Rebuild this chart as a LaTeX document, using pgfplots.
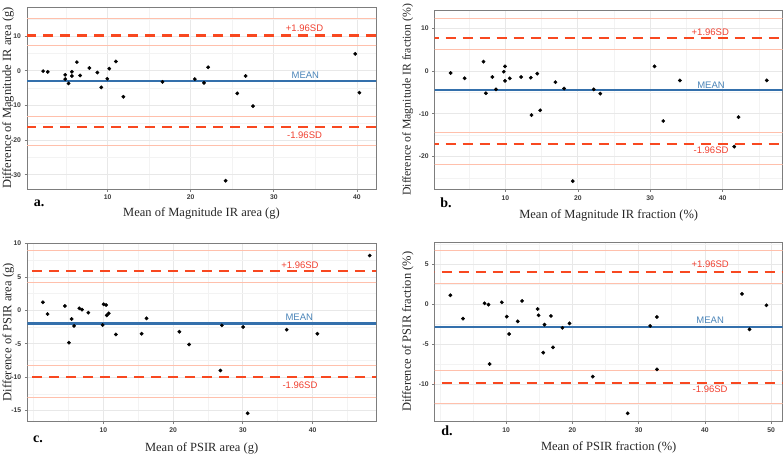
\documentclass[border=0pt]{standalone}
\usepackage{pgfplots}
\pgfplotsset{compat=1.18}
\usepackage{fontspec}
\setmainfont{Liberation Serif}
\setsansfont{Liberation Sans}
\definecolor{sdred}{RGB}{248,72,32}
\definecolor{cilight}{RGB}{255,192,172}
\definecolor{meanblue}{RGB}{52,112,172}
\definecolor{sdtext}{RGB}{240,64,48}
\definecolor{meantext}{RGB}{74,132,184}
\definecolor{gridc}{RGB}{232,232,232}
\definecolor{gridm}{RGB}{243,243,243}
\definecolor{framec}{RGB}{125,125,125}
\definecolor{tickc}{RGB}{60,60,60}
\tikzset{
  sdlab/.style={font=\sffamily\fontsize{9.5}{10}\selectfont, text=sdtext},
  mnlab/.style={font=\sffamily\fontsize{9.5}{10}\selectfont, text=meantext},
  plab/.style={font=\bfseries\fontsize{14}{15}\selectfont},
}
\pgfplotsset{
  ba/.style={
    scale only axis, anchor=north west,
    tick pos=left, tick align=outside, major tick length=2.5pt,
    minor tick length=0pt,
    grid=both,
    major grid style={color=gridc, line width=0.7pt},
    minor grid style={color=gridm, line width=0.5pt},
    axis line style={color=framec, line width=0.9pt},
    major tick style={color=framec, line width=0.6pt},
    ticklabel style={font=\sffamily\bfseries\fontsize{6.8}{7}\selectfont, text=tickc},
    /pgf/number format/assume math mode=true,
    label style={font=\fontsize{12.5}{14}\selectfont, text=black!85, inner sep=1pt},
    clip=true,
  },
  xl/.style={xlabel style={at={([yshift=-#1]axis description cs:0.5,0)}, anchor=center}},
  yl/.style={ylabel style={at={([xshift=-#1]axis description cs:0,0.5)}, anchor=center, rotate=0}},
  pts/.style={only marks, mark=*, mark size=1.7pt, color=black},
  ci/.style={color=cilight, line width=0.9pt},
  sd/.style={color=sdred, line width=2.2pt, dash pattern=on 10pt off 7pt},
  mn/.style={color=meanblue, line width=2.6pt},
}
\pgfplotstableread{
x y
2.24 -0.1
2.8 -0.3
4.9 -1.15
4.9 -2.4
5.3 -3.65
5.7 -0.3
5.7 -1.5
6.3 2.5
6.7 -1.35
7.8 0.8
8.76 -0.5
9.24 -4.8
9.96 -2.3
10.2 0.6
11.0 2.7
11.9 -7.5
16.6 -3.2
20.5 -2.4
21.6 -3.5
22.1 1.0
24.2 -31.7
25.6 -6.5
26.6 -1.5
27.5 -10.2
39.8 4.9
40.3 -6.3
}\dataA
\pgfplotstableread{
x y
2.43 -0.47
4.36 -1.7
6.97 2.19
7.3 -5.2
8.2 -1.4
8.7 -4.3
9.77 -0.16
9.95 1.1
9.95 -2.3
10.6 -1.7
12.16 -1.4
13.5 -1.56
13.6 -10.3
14.4 -0.6
14.8 -9.2
16.9 -2.6
18.1 -4.1
19.3 -25.8
22.2 -4.3
23.1 -5.3
30.6 1.1
31.8 -11.7
34.1 -2.2
41.6 -17.7
42.2 -10.8
46.1 -2.2
}\dataB
\pgfplotstableread{
x y
1.34 1.2
2.0 -0.55
4.5 0.65
5.07 -4.84
5.45 -1.3
5.8 -2.34
6.56 0.3
6.94 0.1
7.85 -0.35
9.9 -2.2
10.05 0.9
10.4 0.8
10.5 -0.75
10.77 -0.45
11.8 -3.6
15.5 -3.5
16.2 -1.2
20.9 -3.2
22.3 -5.1
26.8 -9.0
27.0 -2.25
30.05 -2.5
30.7 -15.4
36.3 -2.9
40.7 -3.5
48.2 8.2
}\dataC
\pgfplotstableread{
x y
1.58 1.17
3.48 -1.75
6.74 0.17
7.34 0.0
7.5 -7.43
9.35 0.29
10.1 -1.5
10.45 -3.67
11.75 -2.09
12.4 0.46
14.76 -0.54
14.9 -1.34
15.6 -6.0
15.8 -2.5
16.77 -1.42
17.07 -5.34
18.5 -2.9
19.57 -2.34
23.08 -9.0
28.35 -13.6
31.75 -2.67
32.76 -1.54
32.76 -8.1
45.6 1.34
46.74 -3.09
49.3 -0.08
}\dataD
\begin{document}
\begin{tikzpicture}
\useasboundingbox (0pt,0pt) rectangle (784pt,-459pt);
% ---------------- a ----------------
\begin{axis}[ba, at={(27pt,-7pt)}, width=349pt, height=182pt,
  xmin=0.3, xmax=42.3, ymin=-34.1, ymax=18.4,
  xtick={10,20,30,40}, minor xtick={5,15,25,35},
  ytick={-30,-20,-10,0,10}, minor ytick={-25,-15,-5,5,15},
  xlabel={Mean of Magnitude IR area (g)},
  ylabel={Difference of Magnitude IR area (g)},
  xl=24pt, yl=19pt]
\addplot[pts] table[x=x,y=y] {\dataA};
\addplot[ci] coordinates {(-10,15.0) (100,15.0)};
\addplot[ci] coordinates {(-10,7.2) (100,7.2)};
\addplot[ci] coordinates {(-10,-13.3) (100,-13.3)};
\addplot[ci] coordinates {(-10,-21.4) (100,-21.4)};
\addplot[sd] coordinates {(-10,10.2) (100,10.2)};
\addplot[sd] coordinates {(-10,-16.1) (100,-16.1)};
\addplot[mn] coordinates {(-10,-2.9) (100,-2.9)};
\node[sdlab] at (axis cs:33.7,12.2) {+1.96SD};
\node[mnlab] at (axis cs:33.8,-1.2) {MEAN};
\node[sdlab] at (axis cs:33.7,-18.6) {-1.96SD};
\end{axis}
\node[plab] at (39pt,-203pt) {a.};
% ---------------- b ----------------
\begin{axis}[ba, at={(434.7pt,-10pt)}, width=348pt, height=179.3pt,
  xmin=0.23, xmax=48.3, ymin=-27.7, ymax=14.3,
  xtick={10,20,30,40}, minor xtick={5,15,25,35,45},
  ytick={-20,-10,0,10}, minor ytick={-25,-15,-5,5},
  xlabel={Mean of Magnitude IR fraction (\%)},
  ylabel={Difference of Magnitude IR fraction (\%)},
  xl=26pt, yl=27pt, ylabel style={font=\fontsize{11.8}{13}\selectfont, yshift=0pt}]
\addplot[pts] table[x=x,y=y] {\dataB};
\addplot[ci] coordinates {(-10,12.3) (100,12.3)};
\addplot[ci] coordinates {(-10,5.0) (100,5.0)};
\addplot[ci] coordinates {(-10,-14.4) (100,-14.4)};
\addplot[ci] coordinates {(-10,-21.9) (100,-21.9)};
\addplot[sd] coordinates {(-10,7.66) (100,7.66)};
\addplot[sd] coordinates {(-10,-17.1) (100,-17.1)};
\addplot[mn] coordinates {(-10,-4.45) (100,-4.45)};
\node[sdlab] at (axis cs:38.3,9.0) {+1.96SD};
\node[mnlab] at (axis cs:38.4,-3.3) {MEAN};
\node[sdlab] at (axis cs:38.4,-18.6) {-1.96SD};
\end{axis}
\node[plab] at (446pt,-203pt) {b.};
% ---------------- c ----------------
\begin{axis}[ba, at={(27.3pt,-243pt)}, width=348.7pt, height=178.7pt,
  xmin=-0.9, xmax=49.1, ymin=-16.66, ymax=10.07,
  xtick={10,20,30,40}, minor xtick={0,5,15,25,35,45},
  ytick={-15,-10,-5,0,5,10}, minor ytick={-12.5,-7.5,-2.5,2.5,7.5},
  xlabel={Mean of PSIR area (g)},
  ylabel={Difference of PSIR area (g)},
  xl=27pt, yl=19pt]
\addplot[pts] table[x=x,y=y] {\dataC};
\addplot[ci] coordinates {(-10,8.98) (100,8.98)};
\addplot[ci] coordinates {(-10,4.19) (100,4.19)};
\addplot[ci] coordinates {(-10,-8.28) (100,-8.28)};
\addplot[ci] coordinates {(-10,-13.07) (100,-13.07)};
\addplot[sd] coordinates {(-10,5.9) (100,5.9)};
\addplot[sd] coordinates {(-10,-9.98) (100,-9.98)};
\addplot[mn] coordinates {(-10,-2.0) (100,-2.0)};
\node[sdlab] at (axis cs:38.2,6.8) {+1.96SD};
\node[mnlab] at (axis cs:38.1,-1.1) {MEAN};
\node[sdlab] at (axis cs:38.2,-11.2) {-1.96SD};
\end{axis}
\node[plab] at (38pt,-439pt) {c.};
% ---------------- d ----------------
\begin{axis}[ba, at={(434.7pt,-242.3pt)}, width=348pt, height=179pt,
  xmin=-0.78, xmax=51.75, ymin=-14.6, ymax=7.8,
  xtick={10,20,30,40,50}, minor xtick={0,5,15,25,35,45},
  ytick={-10,-5,0,5}, minor ytick={-12.5,-7.5,-2.5,2.5,7.5},
  xlabel={Mean of PSIR fraction (\%)},
  ylabel={Difference of PSIR fraction (\%)},
  xl=26pt, yl=27pt]
\addplot[pts] table[x=x,y=y] {\dataD};
\addplot[ci] coordinates {(-10,6.8) (100,6.8)};
\addplot[ci] coordinates {(-10,2.59) (100,2.59)};
\addplot[ci] coordinates {(-10,-8.27) (100,-8.27)};
\addplot[ci] coordinates {(-10,-12.4) (100,-12.4)};
\addplot[sd] coordinates {(-10,4.13) (100,4.13)};
\addplot[sd] coordinates {(-10,-9.77) (100,-9.77)};
\addplot[mn] coordinates {(-10,-2.8) (100,-2.8)};
\node[sdlab] at (axis cs:40.8,5.0) {+1.96SD};
\node[mnlab] at (axis cs:40.8,-2.0) {MEAN};
\node[sdlab] at (axis cs:40.8,-10.6) {-1.96SD};
\end{axis}
\node[plab] at (447pt,-431pt) {d.};
\end{tikzpicture}
\end{document}
